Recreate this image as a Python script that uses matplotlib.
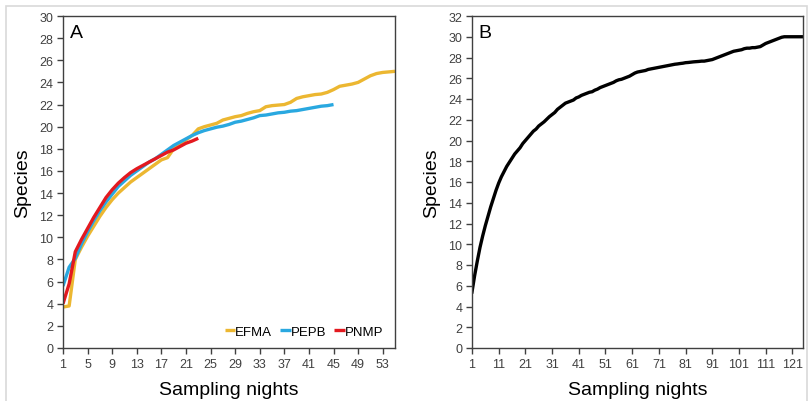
import matplotlib
matplotlib.use("Agg")
import matplotlib.pyplot as plt
from matplotlib.patches import Rectangle

plt.rcParams['font.family'] = ['Liberation Sans', 'DejaVu Sans']

# panel A: species accumulation per site
efma = [3.7, 3.8, 8.0, 9.1, 10.1, 11.0, 11.9, 12.7, 13.4, 14.0,
        14.5, 15.0, 15.4, 15.8, 16.2, 16.6, 17.0, 17.2, 18.0, 18.4,
        18.8, 19.2, 19.8, 20.0, 20.15, 20.3, 20.6, 20.75, 20.9, 21.0,
        21.2, 21.35, 21.45, 21.8, 21.9, 21.95, 22.0, 22.2, 22.55, 22.7,
        22.8, 22.9, 22.95, 23.1, 23.35, 23.65, 23.75, 23.85, 24.0, 24.3,
        24.6, 24.8, 24.9, 24.95, 25.0]
pepb = [5.6, 7.3, 8.1, 9.4, 10.5, 11.5, 12.4, 13.2, 13.9, 14.6,
        15.1, 15.6, 16.0, 16.4, 16.8, 17.1, 17.5, 17.9, 18.3, 18.6,
        18.9, 19.2, 19.45, 19.65, 19.8, 19.95, 20.05, 20.2, 20.4, 20.5,
        20.65, 20.8, 21.0, 21.05, 21.15, 21.25, 21.3, 21.4, 21.45, 21.55,
        21.65, 21.75, 21.85, 21.9, 22.0]
pnmp = [4.0, 5.8, 8.7, 9.8, 10.8, 11.8, 12.7, 13.6, 14.3, 14.9,
        15.4, 15.85, 16.2, 16.5, 16.8, 17.1, 17.4, 17.7, 17.9, 18.2,
        18.5, 18.7, 18.95]
series_a = [("EFMA", efma, "#ecb731"), ("PEPB", pepb, "#29a8e0"), ("PNMP", pnmp, "#e3191f")]
ticks_a = list(range(1, 54, 4))

# panel B: all sites pooled
pooled = [5.4, 7.0, 8.4, 9.7, 10.8, 11.8, 12.7, 13.6, 14.4, 15.2,
          15.9, 16.5, 17.0, 17.5, 17.9, 18.3, 18.7, 19.0, 19.3, 19.7,
          20.0, 20.3, 20.6, 20.9, 21.1, 21.4, 21.6, 21.8, 22.05, 22.3,
          22.5, 22.7, 23.0, 23.2, 23.4, 23.6, 23.7, 23.8, 23.9, 24.1,
          24.2, 24.35, 24.45, 24.55, 24.65, 24.7, 24.85, 24.95, 25.1, 25.2,
          25.3, 25.4, 25.5, 25.6, 25.75, 25.85, 25.9, 26.0, 26.1, 26.2,
          26.35, 26.5, 26.6, 26.65, 26.7, 26.75, 26.85, 26.9, 26.95, 27.0,
          27.05, 27.1, 27.15, 27.2, 27.25, 27.3, 27.35, 27.38, 27.42, 27.45,
          27.5, 27.52, 27.55, 27.58, 27.6, 27.62, 27.65, 27.65, 27.7, 27.75,
          27.8, 27.9, 28.0, 28.1, 28.2, 28.3, 28.4, 28.5, 28.6, 28.65,
          28.7, 28.75, 28.85, 28.9, 28.9, 28.95, 28.95, 29.0, 29.05, 29.2,
          29.35, 29.45, 29.55, 29.65, 29.75, 29.85, 29.95, 30.0, 30.0, 30.0,
          30.0, 30.0, 30.0, 30.0, 30.0]
ticks_b = list(range(1, 122, 10))

fig = plt.figure(figsize=(8.1, 4.02), dpi=100)
fig.patches.append(Rectangle((6/810, -0.1), 801/810, 1.1 - 7/402, transform=fig.transFigure,
                             fill=False, edgecolor="#d9d9d9", linewidth=1.2))

axA = fig.add_axes([63/810, 53/402, 332/810, 332/402])
axB = fig.add_axes([472/810, 53/402, 331/810, 332/402])

for name, vals, col in series_a:
    axA.plot(range(1, len(vals) + 1), vals, color=col, lw=2.4, label=name, solid_capstyle="butt")
axA.set_xlim(1, 55)
axA.set_ylim(0, 30)
axA.set_xticks(ticks_a)
axA.set_yticks(range(0, 31, 2))
axA.text(0.02, 0.975, "A", transform=axA.transAxes, fontsize=14, va="top", ha="left")
axA.legend(loc="lower right", bbox_to_anchor=(1.0, -0.006), ncol=3, frameon=False, fontsize=9.5,
           handlelength=0.8, handletextpad=0.0, columnspacing=0.6)

axB.plot(range(1, len(pooled) + 1), pooled, color="black", lw=2.4)
axB.set_xlim(1, 125)
axB.set_ylim(0, 32)
axB.set_xticks(ticks_b)
axB.set_yticks(range(0, 33, 2))
axB.text(0.02, 0.975, "B", transform=axB.transAxes, fontsize=14, va="top", ha="left")

for ax in (axA, axB):
    for sp in ax.spines.values():
        sp.set_color("#404040")
        sp.set_linewidth(1.0)
    ax.tick_params(direction="out", length=4, width=1, color="#404040",
                   labelsize=9, labelcolor="#404040", pad=3)
    ax.set_xlabel("Sampling nights", fontsize=14, labelpad=8)
    ax.set_ylabel("Species", fontsize=14, labelpad=6)

fig.savefig("out.png", dpi=100)
